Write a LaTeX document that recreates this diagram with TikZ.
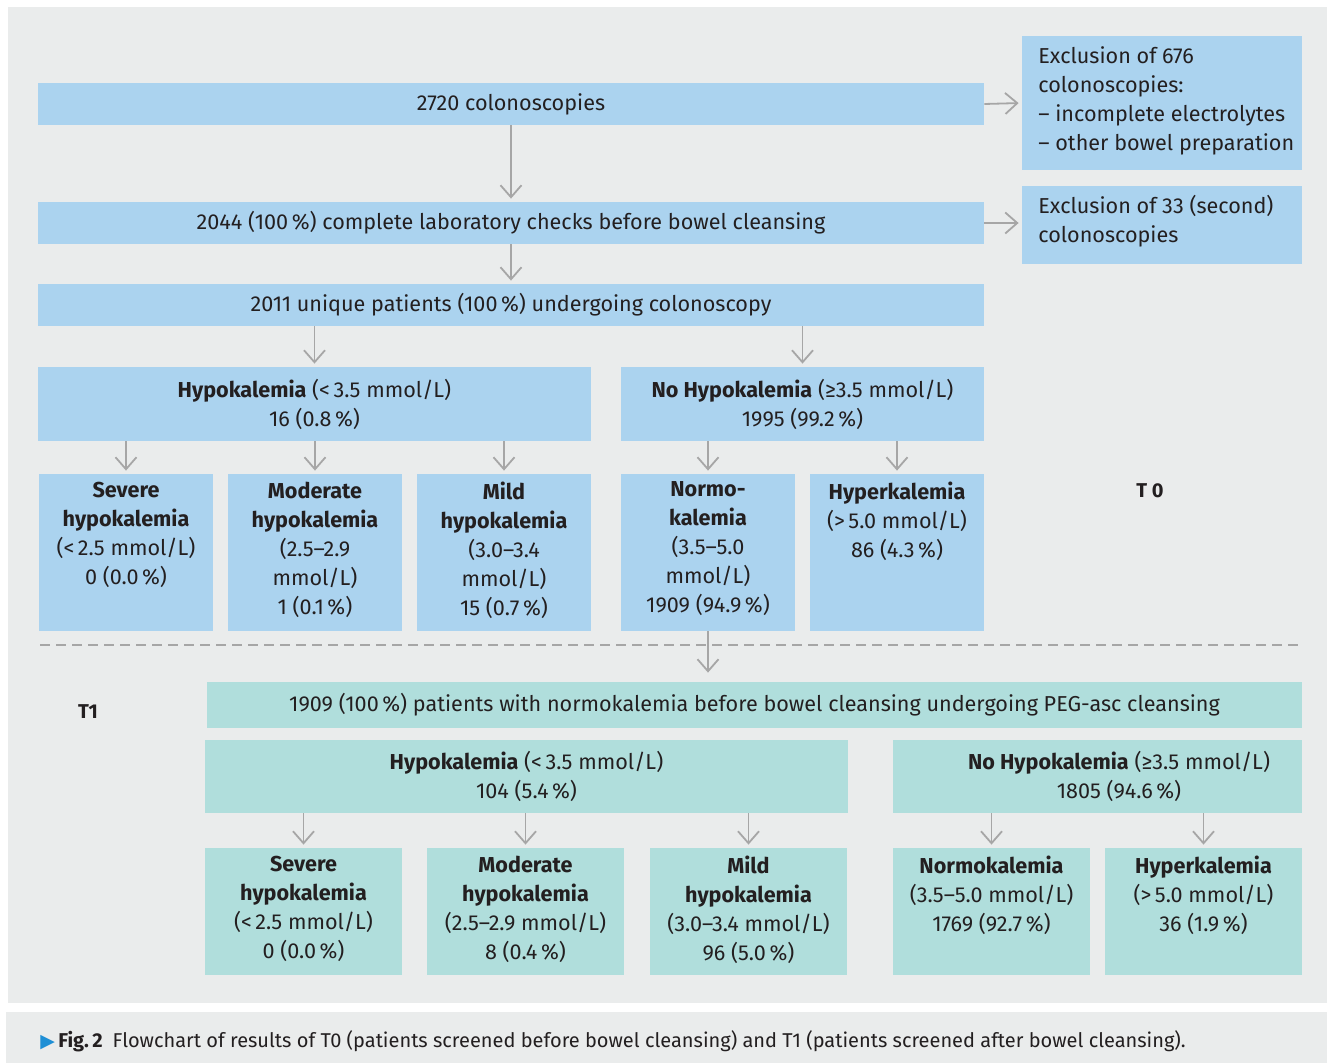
\documentclass[tikz,border=0pt]{standalone}
\usepackage{fontspec}
\setmainfont{Fira Sans}
\newfontfamily\symfont{DejaVu Sans}
\usetikzlibrary{arrows.meta,fit}

\definecolor{bgray}{HTML}{EAECEC}
\definecolor{boxblue}{HTML}{ABD3EF}
\definecolor{boxteal}{HTML}{B0DEDC}
\definecolor{arrowgray}{HTML}{A6A6A6}
\definecolor{txt}{HTML}{231F20}
\definecolor{figblue}{HTML}{1E8FD5}

\tikzset{
  boxfont/.style={font=\fontsize{10.8}{14.5}\selectfont, text=txt},
  blue box/.style={fill=boxblue, inner sep=0pt},
  teal box/.style={fill=boxteal, inner sep=0pt},
  mid text/.style={align=center, inner sep=0pt, boxfont},
  box text/.style={align=center, inner sep=0pt, anchor=north, yshift=-4pt, boxfont,
    execute at begin node={\vphantom{Ml}}},
  flow/.style={draw=arrowgray, line width=0.9pt, -{Straight Barb[length=6pt,width=10.5pt]}, shorten >=1.5pt},
}

\begin{document}
\begin{tikzpicture}[x=0.5pt, y=-0.5pt]
    \useasboundingbox (0,0) rectangle (1327,1063);
    \fill[bgray] (8,7) rectangle (1327,1003);
    \fill[bgray] (6,1012) rectangle (1327,1063);

    % T0
    \node[blue box, fit={(38,83) (984,125)}] (colono) {};
    \node[mid text] at (colono) {2720 colonoscopies};
    \node[blue box, fit={(1022,36) (1302,170)}] (exclA) {};
    \node[align=left, inner sep=0pt, anchor=north west, boxfont] at (1038,46)
      {Exclusion of 676\\colonoscopies:\\– incomplete electrolytes\\– other bowel preparation};
    \node[blue box, fit={(38,202) (984,244)}] (labchk) {};
    \node[mid text] at (labchk) {2044 (100\,\%) complete laboratory checks before bowel cleansing};
    \node[blue box, fit={(1022,186) (1302,264)}] (exclB) {};
    \node[align=left, inner sep=0pt, anchor=north west, boxfont] at (1038,195)
      {Exclusion of 33 (second)\\colonoscopies};
    \node[blue box, fit={(38,284) (984,326)}] (unique) {};
    \node[mid text] at (unique) {2011 unique patients (100\,\%) undergoing colonoscopy};

    \node[blue box, fit={(38,367) (591,441)}] (hypoA) {};
    \node[mid text] at (hypoA) {\textbf{Hypokalemia} (<\,3.5 mmol/L)\\16 (0.8\,\%)};
    \node[blue box, fit={(621,367) (984,441)}] (nohypoA) {};
    \node[mid text] at (nohypoA) {\textbf{No Hypokalemia} (≥3.5 mmol/L)\\1995 (99.2\,\%)};

    \node[blue box, fit={(39,474) (213,631)}] (sevA) {};
    \node[blue box, fit={(228,474) (402,631)}] (modA) {};
    \node[blue box, fit={(417,474) (591,631)}] (mildA) {};
    \node[blue box, fit={(621,474) (795,631)}] (normA) {};
    \node[blue box, fit={(810,474) (984,631)}] (hyperA) {};
    \node[box text] at (sevA.north) {\textbf{Severe}\\\textbf{hypokalemia}\\(<\,2.5 mmol/L)\\0 (0.0\,\%)};
    \node[box text] at (modA.north) {\textbf{Moderate}\\\textbf{hypokalemia}\\(2.5–2.9\\mmol/L)\\1 (0.1\,\%)};
    \node[box text] at (mildA.north) {\textbf{Mild}\\\textbf{hypokalemia}\\(3.0–3.4\\mmol/L)\\15 (0.7\,\%)};
    \node[box text] at (normA.north) {\textbf{Normo-}\\\textbf{kalemia}\\(3.5–5.0\\mmol/L)\\1909 (94.9\,\%)};
    \node[box text] at (hyperA.north) {\textbf{Hyperkalemia}\\(>\,5.0 mmol/L)\\86 (4.3\,\%)};

    \node[boxfont, font=\bfseries] (tzero) at (1150,491) {T 0};

    \draw[arrowgray, line width=0.9pt, dash pattern=on 5pt off 3pt] (40,645) -- (1302,645);

    % T1
    \node[teal box, fit={(207,682) (1302,728)}] (normT) {};
    \node[mid text] at (normT) {1909 (100\,\%) patients with normokalemia before bowel cleansing undergoing PEG-asc cleansing};
    \node[boxfont, font=\bfseries] (tone) at (88,712) {T1};

    \node[teal box, fit={(205,740) (848,813)}] (hypoB) {};
    \node[mid text] at (hypoB) {\textbf{Hypokalemia} (<\,3.5 mmol/L)\\104 (5.4\,\%)};
    \node[teal box, fit={(893,740) (1302,813)}] (nohypoB) {};
    \node[mid text] at (1119,776) {\textbf{No Hypokalemia} (≥3.5 mmol/L)\\1805 (94.6\,\%)};

    \node[teal box, fit={(205,848) (402,975)}] (sevB) {};
    \node[teal box, fit={(427,848) (624,975)}] (modB) {};
    \node[teal box, fit={(650,848) (847,975)}] (mildB) {};
    \node[teal box, fit={(893,848) (1090,975)}] (normB) {};
    \node[teal box, fit={(1105,848) (1302,975)}] (hyperB) {};
    \node[box text] at (sevB.north) {\textbf{Severe}\\\textbf{hypokalemia}\\(<\,2.5 mmol/L)\\0 (0.0\,\%)};
    \node[box text] at (modB.north) {\textbf{Moderate}\\\textbf{hypokalemia}\\(2.5–2.9 mmol/L)\\8 (0.4\,\%)};
    \node[box text] at (mildB.north) {\textbf{Mild}\\\textbf{hypokalemia}\\(3.0–3.4 mmol/L)\\96 (5.0\,\%)};
    \node[box text] at (normB.north) {\textbf{Normokalemia}\\(3.5–5.0 mmol/L)\\1769 (92.7\,\%)};
    \node[box text] at (hyperB.north) {\textbf{Hyperkalemia}\\(>\,5.0 mmol/L)\\36 (1.9\,\%)};

    % arrows
    \draw[flow] (colono.south) -- (labchk.north);
    \draw[flow] (labchk.south) -- (unique.north);
    \draw[flow] (colono.east) -- (exclA.west);
    \draw[flow] (labchk.east) -- (labchk.east -| exclB.west);
    \draw[flow] (unique.south -| hypoA.north) -- (hypoA.north);
    \draw[flow] (unique.south -| nohypoA.north) -- (nohypoA.north);
    \foreach \child in {sevA, modA, mildA}
      \draw[flow] (hypoA.south -| \child.north) -- (\child.north);
    \foreach \child in {normA, hyperA}
      \draw[flow] (nohypoA.south -| \child.north) -- (\child.north);
    \draw[flow, shorten >=4.5pt] (normA.south) -- (normA.south |- normT.north);
    \foreach \child in {sevB, modB, mildB}
      \draw[flow] (hypoB.south -| \child.north) -- (\child.north);
    \foreach \child in {normB, hyperB}
      \draw[flow] (nohypoB.south -| \child.north) -- (\child.north);

    % caption
    \node[anchor=west, inner sep=0pt, font=\fontsize{10}{12}\selectfont, text=txt] (caption) at (40,1041)
      {{\symfont\fontsize{9.5}{9.5}\selectfont\color{figblue}▶}\,\textbf{Fig.\,2}\enspace Flowchart of results of T0 (patients screened before bowel cleansing) and T1 (patients screened after bowel cleansing).};
\end{tikzpicture}
\end{document}
